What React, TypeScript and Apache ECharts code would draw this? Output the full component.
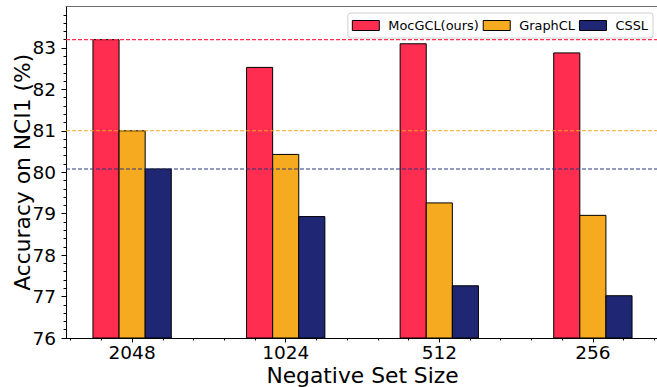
import React, { useEffect, useRef } from "react";
import * as echarts from "echarts";

const categories = ["2048", "1024", "512", "256"];
const seriesNames = ["MocGCL(ours)", "GraphCL", "CSSL"];
const mocgclValues = [83.2, 82.53, 83.1, 82.88];
const graphclValues = [81.0, 80.43, 79.26, 78.96];
const csslValues = [80.08, 78.93, 77.26, 77.02];
const referenceLines = [83.2, 81.0, 80.08];
const yTickValues = [76, 77, 78, 79, 80, 81, 82, 83];
const xTickValues = [0, 1, 2, 3];

const colors = ["#FF2D4F", "#F5AA1F", "#1F2774"];
const lineColors = ["#FF2D4F", "#F5A623", "#2B3580"];
const BAR_W = 0.17;
const X_MIN = -0.4305;
const X_MAX = 3.4305;
const Y_MIN = 76;
const Y_MAX = 84;
const FONT = "DejaVu Sans";

function range(start: number, end: number, step: number): number[] {
  const out: number[] = [];
  const n = Math.round((end - start) / step);
  for (let i = 0; i <= n; i++) out.push(Math.round((start + i * step) * 1000) / 1000);
  return out;
}

export default function App() {
  const ref = useRef<HTMLDivElement>(null);
  useEffect(() => {
    document.body.style.margin = "0";
    if (!ref.current) return;
    const chart = echarts.init(ref.current, null, { renderer: "svg" });
    const values = [mocgclValues, graphclValues, csslValues];
    const xMinor = range(-0.4, 3.4, 0.2).filter((v) => Math.abs(v - Math.round(v)) > 1e-6);
    const yMinor = range(Y_MIN, Y_MAX, 0.2).filter((v) => Math.abs(v - Math.round(v)) > 1e-6);

    const barSeries = seriesNames.map((name, s) => ({
      name,
      type: "custom",
      xAxisIndex: 0,
      yAxisIndex: 0,
      z: 2,
      itemStyle: { color: colors[s], borderColor: "#000", borderWidth: 1 },
      data: values[s].map((v, i) => [i + (s - 1) * BAR_W, v]),
      renderItem: (params: any, api: any) => {
        const x = api.value(0);
        const v = api.value(1);
        const p0 = api.coord([x - BAR_W / 2, v]);
        const p1 = api.coord([x + BAR_W / 2, Y_MIN]);
        return {
          type: "rect",
          shape: { x: p0[0], y: p0[1], width: p1[0] - p0[0], height: p1[1] - p0[1] },
          style: { fill: colors[s], stroke: "#000", lineWidth: 1 },
        };
      },
    }));

    const refSeries = referenceLines.map((v, s) => ({
      name: "ref-" + seriesNames[s],
      type: "line",
      xAxisIndex: 0,
      yAxisIndex: 0,
      z: 5,
      silent: true,
      showSymbol: false,
      symbol: "none",
      color: lineColors[s],
      data: [
        [X_MIN, v],
        [X_MAX, v],
      ],
      lineStyle: { color: lineColors[s], type: [4, 2], width: 1.1 },
    }));

    const minorY = {
      name: "minor-y",
      type: "line",
      xAxisIndex: 1,
      yAxisIndex: 1,
      silent: true,
      showSymbol: false,
      symbol: "none",
      data: [],
    };

    chart.setOption({
      animation: false,
      textStyle: { fontFamily: FONT },
      grid: {
        left: 66,
        top: 6.5,
        width: 593,
        height: 331.5,
        show: false,
        containLabel: false,
        outerBoundsMode: "none",
      },
      legend: {
        data: seriesNames,
        right: 4,
        top: 13,
        orient: "horizontal",
        itemWidth: 27,
        itemHeight: 10,
        itemGap: 4,
        padding: [6, 5, 6, 4],
        borderColor: "#cfcfcf",
        borderWidth: 1,
        borderRadius: 3,
        backgroundColor: "rgba(255,255,255,0.85)",
        icon: "rect",
        itemStyle: { borderColor: "#000", borderWidth: 1 },
        textStyle: {
          fontFamily: FONT,
          fontSize: 12.9,
          color: "#000",
          padding: [0, 0, 0, 4],
        },
      },
      xAxis: [
        {
          type: "value",
          min: X_MIN,
          max: X_MAX,
          position: "bottom",
          name: "Negative Set Size",
          nameLocation: "middle",
          nameGap: 26,
          nameMoveOverlap: false,
          nameTextStyle: { fontFamily: FONT, fontSize: 21.8, color: "#000" },
          axisLine: { show: true, onZero: false, lineStyle: { color: "#000", width: 1 } },
          axisTick: {
            show: true,
            customValues: xTickValues,
            length: 4.5,
            lineStyle: { color: "#000" },
          },
          axisLabel: {
            customValues: xTickValues,
            formatter: (v: number) => categories[Math.round(v)] ?? "",
            fontFamily: FONT,
            fontSize: 18.5,
            color: "#000",
            margin: 5,
          },
          splitLine: { show: false },
        },
        {
          type: "value",
          min: X_MIN,
          max: X_MAX,
          position: "bottom",
          axisLine: { show: false, onZero: false },
          axisTick: {
            show: true,
            customValues: xMinor,
            length: 2.5,
            lineStyle: { color: "#000" },
          },
          axisLabel: { show: false },
          splitLine: { show: false },
        },
        {
          type: "value",
          min: X_MIN,
          max: X_MAX,
          position: "top",
          axisLine: { show: true, onZero: false, lineStyle: { color: "#6a6a6a", width: 1.2 } },
          axisTick: { show: false },
          axisLabel: { show: false },
          splitLine: { show: false },
        },
      ],
      yAxis: [
        {
          type: "value",
          min: Y_MIN,
          max: Y_MAX,
          position: "left",
          name: "Accuracy on NCI1 (%)",
          nameLocation: "middle",
          nameGap: 33,
          nameMoveOverlap: false,
          nameTextStyle: { fontFamily: FONT, fontSize: 21.8, color: "#000" },
          axisLine: { show: true, onZero: false, lineStyle: { color: "#000", width: 1 } },
          axisTick: {
            show: true,
            customValues: yTickValues,
            length: 4.5,
            lineStyle: { color: "#000" },
          },
          axisLabel: {
            customValues: yTickValues,
            fontFamily: FONT,
            fontSize: 18.5,
            color: "#000",
            margin: 10,
          },
          splitLine: { show: false },
        },
        {
          type: "value",
          min: Y_MIN,
          max: Y_MAX,
          position: "left",
          axisLine: { show: false, onZero: false },
          axisTick: {
            show: true,
            customValues: yMinor,
            length: 2.5,
            lineStyle: { color: "#000" },
          },
          axisLabel: { show: false },
          splitLine: { show: false },
        },
      ],
      series: [...barSeries, ...refSeries, minorY],
    });
    return () => chart.dispose();
  }, []);
  return <div ref={ref} style={{ width: 657, height: 387 }} />;
}
